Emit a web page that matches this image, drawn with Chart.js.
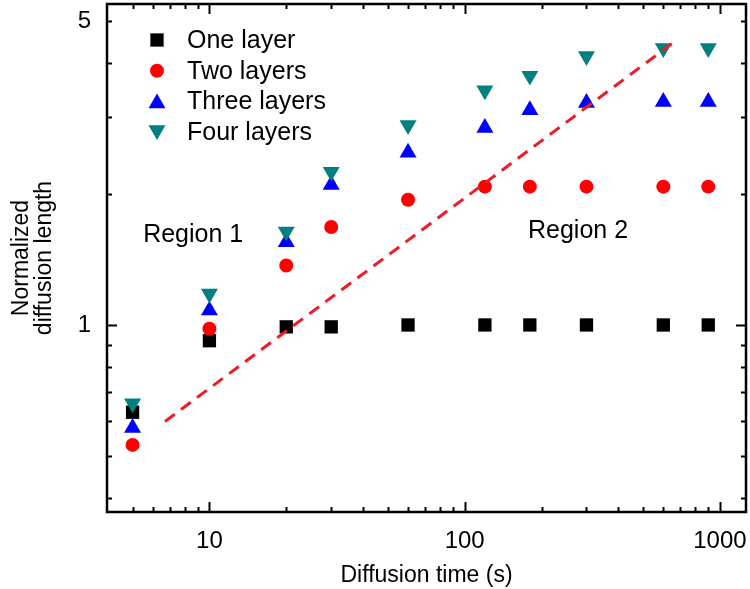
<!DOCTYPE html>
<html>
<head>
<meta charset="utf-8">
<script src="https://cdn.jsdelivr.net/npm/chart.js@4/dist/chart.umd.min.js"></script>
<style>
  html, body { margin: 0; padding: 0; background: #fff; overflow: hidden; }
  canvas { display: block; }
</style>
</head>
<body>
<canvas id="chart" width="750" height="589"></canvas>
<script>
  // diffusion time (s)
  const times = [5, 10, 20, 30, 60, 120, 180, 300, 600, 900];
  const oneLayer = [0.63, 0.92, 0.99, 0.99, 1.0, 1.0, 1.0, 1.0, 1.0, 1.0];
  const twoLayers = [0.53, 0.98, 1.37, 1.68, 1.94, 2.08, 2.08, 2.08, 2.08, 2.08];
  const threeLayers = [0.58, 1.08, 1.55, 2.1, 2.49, 2.84, 3.12, 3.24, 3.26, 3.26];
  const fourLayers = [0.66, 1.18, 1.64, 2.25, 2.88, 3.46, 3.74, 4.15, 4.33, 4.33];
  // dashed guide line (end points)
  const guideX = [6.7, 670];
  const guideY = [0.6, 4.5];

  const xTickValues = [5, 6, 7, 8, 9, 10, 20, 30, 40, 50, 60, 70, 80, 90, 100,
    200, 300, 400, 500, 600, 700, 800, 900, 1000];
  const xLabelValues = [10, 100, 1000];
  const yTickValues = [0.4, 0.5, 0.6, 0.7, 0.8, 0.9, 1, 2, 3, 4, 5];
  const yLabelValues = [1, 5];

  const FONT = "'Liberation Sans', Arial, sans-serif";

  const toPoints = (ys) => times.map((t, i) => ({ x: t, y: ys[i] }));

  const series = [
    { label: 'One layer', data: oneLayer, color: '#000000', style: 'rect', radius: 9.4, rotation: 0 },
    { label: 'Two layers', data: twoLayers, color: '#ff0000', style: 'circle', radius: 7, rotation: 0 },
    { label: 'Three layers', data: threeLayers, color: '#0000ff', style: 'triangle', radius: 9.8, rotation: 0 },
    { label: 'Four layers', data: fourLayers, color: '#008080', style: 'triangle', radius: 9.8, rotation: 180 },
  ];

  const datasets = series.map((s, i) => ({
    label: s.label,
    type: 'scatter',
    data: toPoints(s.data),
    pointStyle: s.style,
    pointRadius: s.radius,
    pointHoverRadius: s.radius,
    pointRotation: s.rotation,
    backgroundColor: s.color,
    borderColor: s.color,
    borderWidth: 0,
    showLine: false,
    order: 4 - i,
  }));

  datasets.push({
    label: 'guide',
    type: 'line',
    data: guideX.map((x, i) => ({ x: x, y: guideY[i] })),
    borderColor: '#ee1c24',
    borderWidth: 3,
    borderDash: [12, 8],
    pointRadius: 0,
    fill: false,
    order: 0,
  });

  function drawMarker(ctx, s, x, y) {
    ctx.save();
    ctx.fillStyle = s.color;
    ctx.beginPath();
    if (s.style === 'rect') {
      const h = s.radius * Math.SQRT1_2;
      ctx.rect(x - h, y - h, 2 * h, 2 * h);
    } else if (s.style === 'circle') {
      ctx.arc(x, y, s.radius, 0, Math.PI * 2);
    } else {
      const r = s.radius;
      const sign = s.rotation ? -1 : 1;
      ctx.moveTo(x, y - sign * r);
      ctx.lineTo(x + r * Math.sin(Math.PI / 3 * 2), y + sign * r / 2);
      ctx.lineTo(x - r * Math.sin(Math.PI / 3 * 2), y + sign * r / 2);
      ctx.closePath();
    }
    ctx.fill();
    ctx.restore();
  }

  const framePlugin = {
    id: 'frame',
    afterDraw(chart) {
      const ctx = chart.ctx;
      const a = chart.chartArea;
      const xs = chart.scales.x;
      const ys = chart.scales.y;
      ctx.save();
      ctx.strokeStyle = '#000';
      ctx.lineWidth = 2;
      // inward ticks on all four sides
      xTickValues.forEach((v) => {
        const px = Math.round(xs.getPixelForValue(v)) + 0.5;
        const len = xLabelValues.includes(v) ? 10 : 5;
        ctx.beginPath();
        ctx.moveTo(px, a.bottom);
        ctx.lineTo(px, a.bottom - len);
        ctx.moveTo(px, a.top);
        ctx.lineTo(px, a.top + len);
        ctx.stroke();
      });
      yTickValues.forEach((v) => {
        const py = Math.round(ys.getPixelForValue(v)) + 0.5;
        const len = v === 1 ? 10 : 5;
        ctx.beginPath();
        ctx.moveTo(a.left, py);
        ctx.lineTo(a.left + len, py);
        ctx.moveTo(a.right, py);
        ctx.lineTo(a.right - len, py);
        ctx.stroke();
      });
      ctx.lineWidth = 2.5;
      ctx.strokeRect(a.left, a.top, a.right - a.left, a.bottom - a.top);

      // legend
      ctx.font = '25px ' + FONT;
      ctx.textBaseline = 'middle';
      ctx.textAlign = 'left';
      series.forEach((s, i) => {
        const y = a.top + 36 + i * 30.7;
        drawMarker(ctx, s, a.left + 50, y + (s.style === 'triangle' ? (s.rotation ? -2 : 2) : 0));
        ctx.fillStyle = '#000';
        ctx.fillText(s.label, a.left + 80, y + 1);
      });

      // region labels
      ctx.font = '25px ' + FONT;
      ctx.fillText('Region 1', xs.getPixelForValue(5.5), ys.getPixelForValue(1.61));
      ctx.fillText('Region 2', xs.getPixelForValue(177), ys.getPixelForValue(1.64));
      ctx.restore();
    },
  };

  new Chart(document.getElementById('chart'), {
    data: { datasets },
    options: {
      responsive: false,
      animation: false,
      layout: { autoPadding: false, padding: { top: 4, right: 4, left: 0, bottom: 0 } },
      plugins: {
        legend: { display: false },
        tooltip: { enabled: false },
      },
      scales: {
        x: {
          type: 'logarithmic',
          min: 3.97,
          max: 1265,
          afterBuildTicks: (scale) => {
            scale.ticks = xTickValues.map((v) => ({ value: v }));
          },
          afterFit: (scale) => {
            scale.height = 77;
            scale.paddingLeft = 0;
            scale.paddingRight = 0;
          },
          grid: { display: false, drawTicks: false },
          border: { display: false },
          ticks: {
            autoSkip: false,
            maxRotation: 0,
            padding: 15,
            color: '#000',
            font: { family: FONT, size: 24 },
            callback: (v) => (xLabelValues.includes(v) ? String(v) : ''),
          },
          title: {
            display: true,
            text: 'Diffusion time (s)',
            color: '#000',
            font: { family: FONT, size: 23 },
            padding: { top: 0, bottom: 0 },
          },
        },
        y: {
          type: 'logarithmic',
          min: 0.3715,
          max: 5.47,
          afterBuildTicks: (scale) => {
            scale.ticks = yTickValues.map((v) => ({ value: v }));
          },
          afterFit: (scale) => {
            scale.width = 107;
            scale.paddingTop = 0;
            scale.paddingBottom = 0;
          },
          grid: { display: false, drawTicks: false },
          border: { display: false },
          ticks: {
            autoSkip: false,
            padding: 16,
            color: '#000',
            font: { family: FONT, size: 24 },
            callback: (v) => (yLabelValues.includes(v) ? String(v) : ''),
          },
          title: {
            display: true,
            text: ['Normalized', 'diffusion length'],
            color: '#000',
            font: { family: FONT, size: 23, lineHeight: 1.0 },
            padding: { top: 10, bottom: 0 },
          },
        },
      },
    },
    plugins: [framePlugin],
  });
</script>
</body>
</html>
